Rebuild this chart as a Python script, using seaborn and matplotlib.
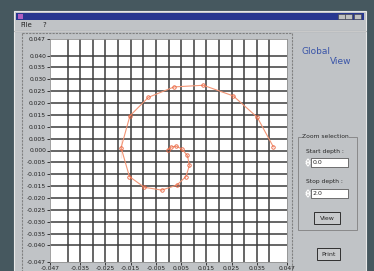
import matplotlib
matplotlib.use('Agg')
import matplotlib.pyplot as plt
import seaborn as sns
import pandas as pd
from matplotlib.patches import Rectangle, Polygon

# spiral track (centre -> outside)
track_x = [-0.0003, 0.0010, 0.0030, 0.0052, 0.0075, 0.0083, 0.0069, 0.0033,
           -0.0027, -0.0096, -0.0155, -0.0188, -0.0188, -0.0153, -0.0080,
           0.0022, 0.0138, 0.0257, 0.0352, 0.0416]
track_y = [0.0004, 0.0014, 0.0018, 0.0007, -0.0021, -0.0063, -0.0110, -0.0146,
           -0.0167, -0.0155, -0.0110, -0.0033, 0.0057, 0.0146, 0.0224,
           0.0268, 0.0275, 0.0230, 0.0140, 0.0015]

x_ticks = [-0.047, -0.035, -0.025, -0.015, -0.005, 0.005, 0.015, 0.025, 0.035, 0.047]
y_ticks = [0.047, 0.040, 0.035, 0.030, 0.025, 0.020, 0.015, 0.010, 0.005, 0.000,
           -0.005, -0.010, -0.015, -0.020, -0.025, -0.030, -0.035, -0.040, -0.047]
grid_vals = [-0.040, -0.035, -0.030, -0.025, -0.020, -0.015, -0.010, -0.005, 0.000,
             0.005, 0.010, 0.015, 0.020, 0.025, 0.030, 0.035, 0.040]

df = pd.DataFrame({'x': track_x, 'y': track_y})

sns.set_style('white')
plt.rcParams['font.family'] = ['DejaVu Sans']

fig = plt.figure(figsize=(3.74, 2.71), dpi=100)

# window chrome drawn in pixel coordinates
bg = fig.add_axes([0, 0, 1, 1], zorder=0)
bg.set_xlim(0, 374)
bg.set_ylim(271, 0)
bg.axis('off')
bg.add_patch(Rectangle((0, 0), 374, 271, fc='#46585f', ec='none'))
bg.add_patch(Rectangle((14, 11), 352, 262, fc='#c0c3c6', ec='#e8e8e8', lw=0.8))
bg.add_patch(Rectangle((16, 12.5), 348, 7, fc='#283790', ec='none'))
bg.add_patch(Rectangle((18, 13.5), 5, 5, fc='#b060c0', ec='none'))
for bx in [338, 345, 354]:
    bg.add_patch(Rectangle((bx, 13.5), 7, 5, fc='#c0c0c0', ec='#404040', lw=0.4))
bg.text(20, 25, 'File', fontsize=5, va='center')
bg.text(42, 25, '?', fontsize=5, va='center')
bg.plot([14, 366], [30.5, 30.5], color='#707070', lw=0.8)
bg.plot([14, 366], [31.3, 31.3], color='#f0f0f0', lw=0.5)

# dashed frame around the plot panel
bg.plot([22, 292, 292], [33, 33, 271], color='#808080', lw=0.8, ls=(0, (2, 1)))
bg.plot([22, 22], [33, 271], color='#808080', lw=0.8, ls=(0, (2, 1)))

bg.text(302, 51, 'Global', fontsize=6.5, color='#3a55a8', va='center')
bg.text(330, 62, 'View', fontsize=6.5, color='#3a55a8', va='center')

# zoom selection group
bg.add_patch(Rectangle((298, 137), 59, 93, fc='none', ec='#808080', lw=0.6))
bg.text(302, 137, 'Zoom selection', fontsize=4.3, va='center',
        bbox=dict(fc='#c0c3c6', ec='none', pad=0.3))
bg.text(306, 151, 'Start depth :', fontsize=4.3, va='center')
bg.text(306, 182, 'Stop depth :', fontsize=4.3, va='center')
for fy, val in [(158, '0.0'), (189, '2.0')]:
    bg.add_patch(Rectangle((311, fy), 37, 8.5, fc='white', ec='#404040', lw=0.5))
    bg.add_patch(Polygon([[306, fy + 4], [310, fy + 4], [308, fy + 1]], fc='#202020'))
    bg.add_patch(Polygon([[306, fy + 5], [310, fy + 5], [308, fy + 8]], fc='#202020'))
    bg.text(313, fy + 4.4, val, fontsize=4.5, va='center')
for (bx, by, bw, label) in [(314, 212, 26, 'View'), (317, 248, 23, 'Print')]:
    bg.add_patch(Rectangle((bx, by), bw, 12, fc='#c8cacc', ec='#303030', lw=0.7))
    bg.text(bx + bw / 2, by + 6, label, fontsize=4.5, ha='center', va='center')

# the plot itself
ax = fig.add_axes([50 / 374, 9 / 271, 237 / 374, 223 / 271], zorder=2)
ax.set_facecolor('white')
sns.lineplot(data=df, x='x', y='y', sort=False, ax=ax, color='#f29575', lw=0.8,
             marker='o', markersize=2.5, markerfacecolor='none',
             markeredgecolor='#e8603c', markeredgewidth=0.6, zorder=3)
ax.set_xlim(-0.047, 0.047)
ax.set_ylim(-0.047, 0.047)
ax.xaxis.remove_overlapping_locs = False
ax.yaxis.remove_overlapping_locs = False
ax.set_xticks(x_ticks)
ax.set_xticklabels([f'{v:.3f}' for v in x_ticks])
ax.set_yticks(y_ticks)
ax.set_yticklabels([f'{v:.3f}' for v in y_ticks])
ax.set_xticks(grid_vals, minor=True)
ax.set_yticks(grid_vals, minor=True)
ax.grid(which='minor', color='#3c3c3c', lw=1.1)
ax.grid(which='major', visible=False)
ax.set_axisbelow(True)
ax.tick_params(which='minor', length=0)
ax.tick_params(which='major', labelsize=4.3, length=2, width=0.6,
               color='#202020', labelcolor='#202020', pad=0.8, left=True, bottom=True)
ax.set_xlabel('')
ax.set_ylabel('')
for s in ax.spines.values():
    s.set_color('#909090')
    s.set_linewidth(0.6)

fig.savefig('out.png', dpi=100)
